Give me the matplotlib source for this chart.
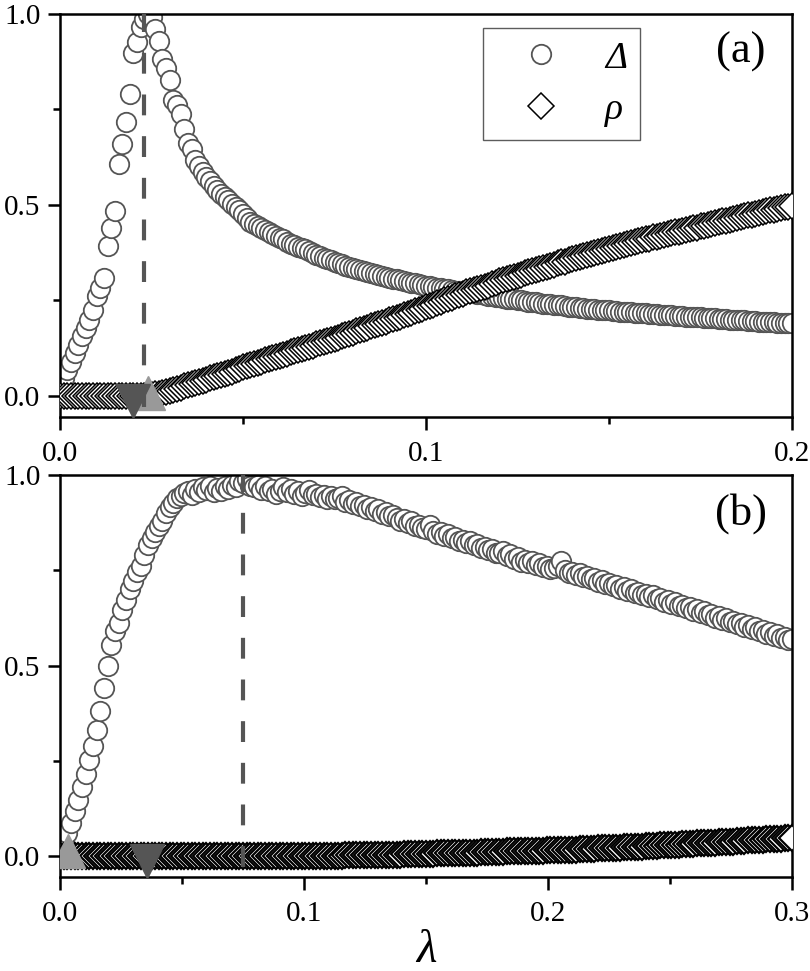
"""Two-panel plot of the gap Delta and the density rho against lambda."""

import numpy as np
import matplotlib
matplotlib.use("Agg")
import matplotlib.pyplot as plt
from matplotlib.ticker import MultipleLocator, FormatStrFormatter

plt.rcParams["font.family"] = "serif"
plt.rcParams["font.serif"] = ["Liberation Serif", "DejaVu Serif"]

# ---- panel (a): lambda from 0 to 0.2, step 0.001 ----
delta_a = [
    0.025, 0.048, 0.068, 0.090, 0.112, 0.133, 0.156, 0.178, 0.200, 0.224,
    0.262, 0.282, 0.310, 0.392, 0.440, 0.484, 0.608, 0.660, 0.718, 0.790,
    0.898, 0.928, 0.965, 0.988, 1.000, 0.992, 0.962, 0.930, 0.882, 0.858,
    0.826, 0.776, 0.762, 0.738, 0.700, 0.662, 0.646, 0.618, 0.602, 0.586,
    0.572, 0.562, 0.550, 0.540, 0.530, 0.520, 0.512, 0.503, 0.494, 0.486,
    0.476, 0.465, 0.456, 0.450, 0.444, 0.440, 0.434, 0.428, 0.424, 0.418,
    0.414, 0.410, 0.404, 0.398, 0.394, 0.391, 0.388, 0.384, 0.379, 0.374,
    0.370, 0.366, 0.362, 0.358, 0.355, 0.352, 0.348, 0.345, 0.341, 0.338,
    0.335, 0.332, 0.330, 0.327, 0.324, 0.322, 0.319, 0.317, 0.314, 0.312,
    0.310, 0.307, 0.305, 0.303, 0.301, 0.299, 0.297, 0.295, 0.293, 0.291,
    0.289, 0.287, 0.286, 0.284, 0.282, 0.281, 0.279, 0.278, 0.276, 0.275,
    0.273, 0.272, 0.270, 0.269, 0.267, 0.266, 0.264, 0.262, 0.261, 0.259,
    0.258, 0.257, 0.255, 0.254, 0.253, 0.251, 0.250, 0.249, 0.247, 0.246,
    0.245, 0.244, 0.242, 0.241, 0.240, 0.239, 0.238, 0.237, 0.235, 0.234,
    0.233, 0.232, 0.231, 0.230, 0.229, 0.228, 0.227, 0.226, 0.225, 0.224,
    0.224, 0.223, 0.222, 0.221, 0.220, 0.220, 0.219, 0.218, 0.217, 0.217,
    0.216, 0.215, 0.215, 0.214, 0.213, 0.212, 0.212, 0.211, 0.210, 0.210,
    0.209, 0.208, 0.208, 0.207, 0.206, 0.206, 0.205, 0.204, 0.204, 0.203,
    0.202, 0.202, 0.201, 0.200, 0.200, 0.199, 0.199, 0.198, 0.197, 0.197,
    0.196, 0.195, 0.195, 0.194, 0.194, 0.193, 0.192, 0.192, 0.191, 0.191,
    0.190,
]
rho_a = [0.0] * 25 + [
    0.002, 0.004, 0.006, 0.008, 0.010,
    0.013, 0.016, 0.019, 0.022, 0.025, 0.028, 0.031, 0.034, 0.037, 0.040,
    0.043, 0.046, 0.049, 0.052, 0.055, 0.058, 0.061, 0.064, 0.067, 0.071,
    0.075, 0.078, 0.081, 0.084, 0.087, 0.090, 0.093, 0.096, 0.099, 0.102,
    0.105, 0.108, 0.111, 0.114, 0.117, 0.120, 0.123, 0.126, 0.129, 0.132,
    0.135, 0.138, 0.141, 0.144, 0.147, 0.150, 0.153, 0.157, 0.160, 0.163,
    0.166, 0.169, 0.172, 0.176, 0.179, 0.182, 0.185, 0.188, 0.192, 0.195,
    0.198, 0.201, 0.205, 0.208, 0.212, 0.215, 0.218, 0.222, 0.225, 0.229,
    0.232, 0.236, 0.239, 0.243, 0.246, 0.250, 0.253, 0.257, 0.261, 0.264,
    0.268, 0.271, 0.274, 0.277, 0.280, 0.283, 0.286, 0.289, 0.292, 0.296,
    0.300, 0.303, 0.306, 0.309, 0.312, 0.315, 0.318, 0.321, 0.324, 0.327,
    0.330, 0.333, 0.336, 0.338, 0.341, 0.344, 0.347, 0.350, 0.352, 0.355,
    0.358, 0.361, 0.363, 0.366, 0.369, 0.371, 0.374, 0.377, 0.380, 0.382,
    0.385, 0.388, 0.390, 0.393, 0.395, 0.398, 0.400, 0.403, 0.405, 0.408,
    0.410, 0.412, 0.415, 0.417, 0.419, 0.421, 0.424, 0.426, 0.428, 0.430,
    0.432, 0.435, 0.437, 0.439, 0.441, 0.444, 0.446, 0.448, 0.450, 0.453,
    0.455, 0.457, 0.459, 0.462, 0.464, 0.466, 0.468, 0.471, 0.473, 0.475,
    0.477, 0.479, 0.481, 0.484, 0.486, 0.488, 0.490, 0.492, 0.494, 0.496,
    0.498,
]
lam_a = np.linspace(0.0, 0.2, 201)
crit_a = 0.023                      # dashed line
up_a = (0.024, 0.008)               # light triangle
down_a = (0.020, -0.013)            # dark triangle

# ---- panel (b): lambda from 0 to 0.3, step 0.0015 ----
delta_b = [
    0.010, 0.035, 0.060, 0.088, 0.118, 0.148, 0.180, 0.215, 0.252, 0.290,
    0.330, 0.380, 0.440, 0.500, 0.555, 0.590, 0.612, 0.645, 0.672, 0.700,
    0.722, 0.745, 0.762, 0.790, 0.815, 0.835, 0.850, 0.866, 0.880, 0.900,
    0.915, 0.926, 0.940, 0.945, 0.952, 0.958, 0.948, 0.962, 0.956, 0.968,
    0.960, 0.970, 0.955, 0.966, 0.958, 0.972, 0.964, 0.975, 0.968, 0.985,
    0.978, 0.990, 0.972, 0.968, 0.975, 0.960, 0.970, 0.958, 0.962, 0.950,
    0.958, 0.968, 0.955, 0.962, 0.950, 0.958, 0.946, 0.952, 0.960, 0.948,
    0.950, 0.942, 0.948, 0.938, 0.945, 0.936, 0.940, 0.944, 0.930, 0.935,
    0.925, 0.930, 0.918, 0.922, 0.912, 0.916, 0.905, 0.910, 0.898, 0.902,
    0.892, 0.895, 0.886, 0.880, 0.884, 0.874, 0.878, 0.866, 0.870, 0.860,
    0.858, 0.870, 0.852, 0.846, 0.850, 0.840, 0.844, 0.834, 0.838, 0.828,
    0.830, 0.822, 0.826, 0.816, 0.820, 0.808, 0.812, 0.802, 0.806, 0.796,
    0.795, 0.800, 0.788, 0.792, 0.780, 0.785, 0.772, 0.778, 0.768, 0.775,
    0.765, 0.770, 0.758, 0.762, 0.752, 0.756, 0.762, 0.775, 0.750, 0.742,
    0.745, 0.738, 0.742, 0.732, 0.736, 0.726, 0.730, 0.720, 0.724, 0.714,
    0.716, 0.708, 0.712, 0.702, 0.706, 0.696, 0.700, 0.690, 0.694, 0.686,
    0.688, 0.680, 0.684, 0.674, 0.678, 0.668, 0.672, 0.662, 0.666, 0.656,
    0.660, 0.650, 0.654, 0.644, 0.648, 0.638, 0.642, 0.632, 0.636, 0.626,
    0.630, 0.620, 0.624, 0.614, 0.618, 0.608, 0.612, 0.602, 0.606, 0.596,
    0.600, 0.590, 0.594, 0.584, 0.588, 0.578, 0.582, 0.572, 0.576, 0.566,
    0.570,
]
rho_b = [0.0] * 70 + [
    0.000, 0.000, 0.001, 0.001, 0.001, 0.001, 0.001, 0.001, 0.002, 0.002,
    0.002, 0.002, 0.002, 0.002, 0.003, 0.003, 0.003, 0.003, 0.003, 0.004,
    0.004, 0.004, 0.004, 0.004, 0.005, 0.005, 0.005, 0.005, 0.005, 0.006,
    0.006, 0.006, 0.006, 0.007, 0.007, 0.007, 0.007, 0.008, 0.008, 0.008,
    0.008, 0.009, 0.009, 0.009, 0.009, 0.010, 0.010, 0.010, 0.011, 0.011,
    0.011, 0.011, 0.012, 0.012, 0.012, 0.012, 0.013, 0.013, 0.013, 0.013,
    0.014, 0.014, 0.014, 0.015, 0.015, 0.015, 0.016, 0.016, 0.016, 0.017,
    0.017, 0.017, 0.018, 0.018, 0.019, 0.019, 0.019, 0.020, 0.020, 0.021,
    0.021, 0.021, 0.022, 0.022, 0.023, 0.023, 0.024, 0.024, 0.025, 0.025,
    0.026, 0.026, 0.027, 0.027, 0.028, 0.028, 0.029, 0.029, 0.030, 0.030,
    0.031, 0.031, 0.032, 0.032, 0.033, 0.033, 0.034, 0.034, 0.035, 0.035,
    0.036, 0.036, 0.037, 0.038, 0.038, 0.039, 0.039, 0.040, 0.041, 0.041,
    0.042, 0.042, 0.043, 0.044, 0.044, 0.045, 0.045, 0.046, 0.047, 0.047,
    0.048,
]
lam_b = np.linspace(0.0, 0.3, 201)
crit_b = 0.075
up_b = (0.0033, 0.012)
down_b = (0.0356, -0.013)

assert len(delta_a) == len(rho_a) == len(lam_a)
assert len(delta_b) == len(rho_b) == len(lam_b)

CIRCLE = dict(ls="none", marker="o", ms=14, mfc="white", mec="#555555", mew=1.3)
DIAMOND = dict(ls="none", marker="D", ms=13.5, mfc="white", mec="#000000")
TICK_FS = 21


def style_axis(ax, xmax):
    ax.set_xlim(0, xmax)
    ax.set_ylim(-0.055, 1.0)
    ax.xaxis.set_major_locator(MultipleLocator(0.1))
    ax.xaxis.set_minor_locator(MultipleLocator(0.05))
    ax.yaxis.set_major_locator(MultipleLocator(0.5))
    ax.yaxis.set_minor_locator(MultipleLocator(0.25))
    ax.xaxis.set_major_formatter(FormatStrFormatter("%.1f"))
    ax.yaxis.set_major_formatter(FormatStrFormatter("%.1f"))
    ax.tick_params(which="both", direction="out", top=False, right=False,
                   width=1.8, labelsize=TICK_FS)
    ax.tick_params(which="major", length=9)
    ax.tick_params(which="minor", length=5)
    ax.tick_params(axis="x", pad=8)
    ax.tick_params(axis="y", pad=5)
    for sp in ax.spines.values():
        sp.set_linewidth(1.8)


def draw_panel(ax, lam, delta, rho, crit, up, down, xmax, tag, dmew):
    ax.plot(lam, delta, zorder=2, label="\u0394", **CIRCLE)
    ax.plot(lam, rho, zorder=3, label="\u03c1", mew=dmew, **DIAMOND)
    ax.plot([up[0]], [up[1]], ls="none", marker="^", ms=24,
            color="#999999", zorder=4)
    ax.plot([down[0]], [down[1]], ls="none", marker="v", ms=24,
            color="#555555", zorder=5)
    ax.plot([crit, crit], [-0.03, 1.0], color="#555555", lw=3,
            dashes=(5, 5), zorder=6, clip_on=False)
    style_axis(ax, xmax)
    ax.text(0.93, 0.905, tag, transform=ax.transAxes, fontsize=32,
            ha="center", va="center")


fig = plt.figure(figsize=(8.1, 9.71), dpi=100)
W, H = 810, 971
ax_a = fig.add_axes([60 / W, 1 - 417 / H, 732 / W, 403 / H])
ax_b = fig.add_axes([60 / W, 1 - 877 / H, 732 / W, 402 / H])

draw_panel(ax_a, lam_a, delta_a, rho_a, crit_a, up_a, down_a, 0.2, "(a)", 1.1)
draw_panel(ax_b, lam_b, delta_b, rho_b, crit_b, up_b, down_b, 0.3, "(b)", 1.6)

leg = ax_a.legend(loc="upper left", bbox_to_anchor=(483 / W, 1 - 28 / H),
                  bbox_transform=fig.transFigure, frameon=True, fancybox=False,
                  borderpad=0.35, handlelength=2.4, handletextpad=0.5,
                  labelspacing=0.45, borderaxespad=0,
                  prop={"family": "Liberation Serif", "style": "italic",
                        "size": 27})
leg.get_frame().set_edgecolor("#333333")
leg.get_frame().set_linewidth(1.0)

ax_b.set_xlabel("\u03bb", fontsize=34, fontstyle="italic", va="center")
ax_b.xaxis.set_label_coords(0.5, (877 - 951) / 402)

fig.savefig("out.png", dpi=100)
